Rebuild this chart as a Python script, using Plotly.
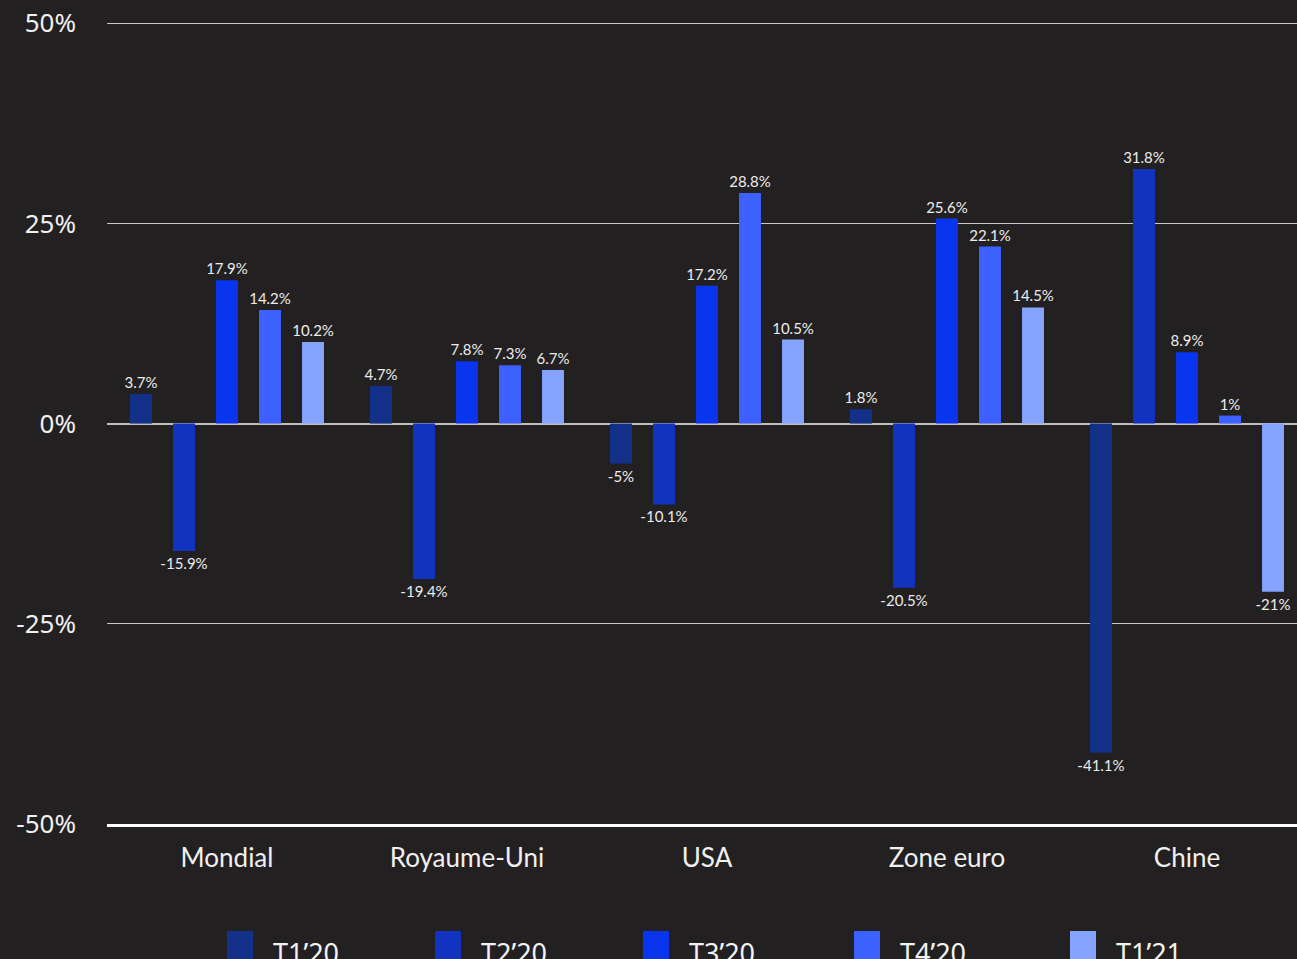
import plotly.graph_objects as go

# Croissance trimestrielle par zone (en %)
zones = ["Mondial", "Royaume-Uni", "USA", "Zone euro", "Chine"]
periodes = ["T1’20", "T2’20", "T3’20", "T4’20", "T1’21"]
t1_20 = [3.7, 4.7, -5, 1.8, -41.1]
t2_20 = [-15.9, -19.4, -10.1, -20.5, 31.8]
t3_20 = [17.9, 7.8, 17.2, 25.6, 8.9]
t4_20 = [14.2, 7.3, 28.8, 22.1, 1]
t1_21 = [10.2, 6.7, 10.5, 14.5, -21]
series = [t1_20, t2_20, t3_20, t4_20, t1_21]

y_ticks = [-50, -25, 0, 25, 50]
y_tick_labels = ["-50%", "-25%", "0%", "25%", "50%"]

couleurs = ["#14318A", "#1133C0", "#0A35EF", "#3D61FF", "#85A3FF"]
BG = "#232021"

fig = go.Figure()
for nom, vals, c in zip(periodes, series, couleurs):
    fig.add_trace(go.Bar(
        x=zones, y=vals, name=nom,
        marker=dict(color=c, line=dict(width=0)),
        text=[f"{v:g}%" for v in vals],
        textposition="outside",
        constraintext="none",
        textfont=dict(family="Lato", size=15, color="#ececec"),
        cliponaxis=False,
        showlegend=False,
    ))

# Légende dessinée à la main : grands carrés + libellés
H = 959
top, bottom = 22, 135
plot_h = H - top - bottom
def py(px_y):
    return (H - bottom - px_y) / plot_h

W = 1297
left = 107
plot_w = W - left
def px(px_x):
    return (px_x - left) / plot_w

legend_x = [227, 435, 643, 854, 1070]
for nom, c, x0 in zip(periodes, couleurs, legend_x):
    fig.add_shape(type="rect", xref="paper", yref="paper",
                  x0=px(x0), x1=px(x0 + 26), y0=py(931), y1=py(975),
                  fillcolor=c, line=dict(width=0), layer="above")
    fig.add_annotation(xref="paper", yref="paper", x=px(x0 + 44), y=py(932),
                       xanchor="left", yanchor="top", showarrow=False,
                       text=nom, font=dict(family="Noto Sans", size=27, color="#f2f2f2"))

# la dernière catégorie déborde légèrement à droite du cadre
cat_px = 240
x_max = -0.5 + plot_w / cat_px

fig.update_layout(
    width=1297, height=959,
    margin=dict(l=left, r=0, t=top, b=bottom),
    paper_bgcolor=BG, plot_bgcolor=BG,
    barmode="group", bargap=0.104, bargroupgap=0.49,
    showlegend=False,
    xaxis=dict(
        range=[-0.5, x_max],
        showline=True, linecolor="#ffffff", linewidth=3,
        ticks="", showgrid=False,
        tickfont=dict(family="Lato", size=26, color="#f0f0f0"),
        ticklabelstandoff=9,
    ),
    yaxis=dict(
        range=[-50, 50.15], tickvals=y_ticks, ticktext=y_tick_labels,
        showgrid=True, gridcolor="#c8c8c8", gridwidth=1,
        zeroline=True, zerolinecolor="#bdbdbd", zerolinewidth=2,
        showline=False, ticks="",
        tickfont=dict(family="Noto Sans", size=26, color="#f0f0f0"),
        ticklabelstandoff=30,
    ),
)

fig.write_html("out.html")
